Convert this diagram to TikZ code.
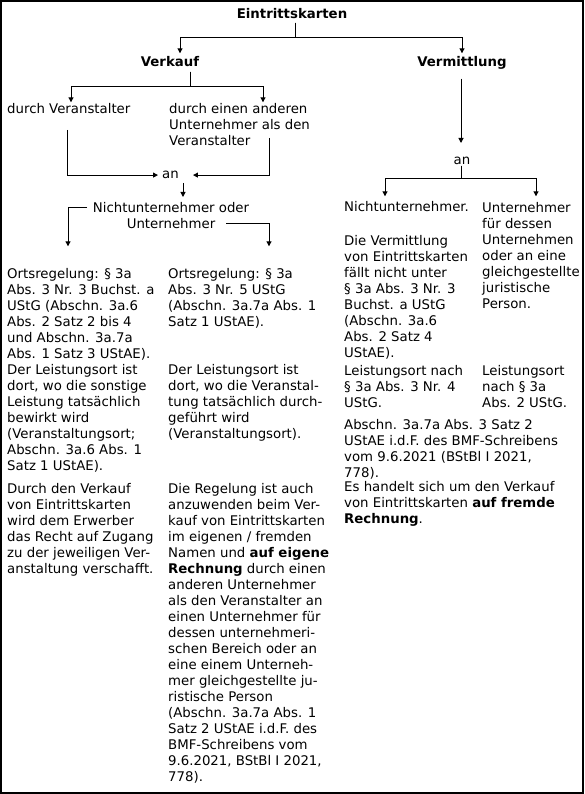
\documentclass[tikz,border=0pt]{standalone}
\usepackage{fontspec}
\setmainfont{DejaVu Sans}
\usetikzlibrary{arrows.meta}
\newcommand{\fs}{\fontsize{13.3}{16}\selectfont}
\newcommand{\tstrut}{\rule[-4.8pt]{0pt}{13.7pt}}
\begin{document}
\begin{tikzpicture}[x=1pt,y=-1pt,
  basetxt/.style={inner sep=0pt, font=\fs, align=left, anchor=north west},
  txt/.style={basetxt, execute at begin node=\tstrut},
  ctxt/.style={txt, anchor=north, align=center},
  btxt/.style={basetxt, anchor=north, align=center, font=\fs\bfseries, execute at begin node=\strut},
  conn/.style={line width=1pt},
  arr/.style={conn, -{Triangle[length=5pt,width=5pt]}}]
\useasboundingbox (0,0) rectangle (584,794);
\draw[line width=1.6pt] (0.8,0.8) rectangle (583.2,793.2);
% headings
\node[btxt] (eint) at (292,7.3) {Eintrittskarten};
\node[btxt] (verk) at (170,55.3) {Verkauf};
\node[btxt] (verm) at (462,55.3) {Vermittlung};
% Verkauf branch
\node[txt] (dv) at (7,103.3) {durch Veranstalter};
\node[txt] (dea) at (169,103.3) {durch einen anderen\\Unternehmer als den\\Veranstalter};
\node[ctxt] (anL) at (170.5,169.3) {an};
\node[ctxt] (nu) at (171,202.3) {Nichtunternehmer oder\\Unternehmer};
\node[txt] (l1) at (7,268.3) {Ortsregelung: § 3a\\Abs. 3 Nr. 3 Buchst. a\\UStG (Abschn. 3a.6\\Abs. 2 Satz 2 bis 4\\und Abschn. 3a.7a\\Abs. 1 Satz 3 UStAE).};
\node[txt] (l2) at (7,364.3) {Der Leistungsort ist\\dort, wo die sonstige\\Leistung tatsächlich\\bewirkt wird\\(Veranstaltungsort;\\Abschn. 3a.6 Abs. 1\\Satz 1 UStAE).};
\node[txt] (l3) at (7,483.3) {Durch den Verkauf\\von Eintrittskarten\\wird dem Erwerber\\das Recht auf Zugang\\zu der jeweiligen Ver-\\anstaltung verschafft.};
\node[txt] (m1) at (168,268.3) {Ortsregelung: § 3a\\Abs. 3 Nr. 5 UStG\\(Abschn. 3a.7a Abs. 1\\Satz 1 UStAE).};
\node[txt] (m2) at (168,364.3) {Der Leistungsort ist\\dort, wo die Veranstal-\\tung tatsächlich durch-\\geführt wird\\(Veranstaltungsort).};
\node[txt] (m3) at (168,483.3) {Die Regelung ist auch\\anzuwenden beim Ver-\\kauf von Eintrittskarten\\im eigenen / fremden\\Namen und \textbf{auf eigene}\\\textbf{Rechnung} durch einen\\anderen Unternehmer\\als den Veranstalter an\\einen Unternehmer für\\dessen unternehmeri-\\schen Bereich oder an\\eine einem Unterneh-\\mer gleichgestellte ju-\\ristische Person\\(Abschn. 3a.7a Abs. 1\\Satz 2 UStAE i.d.F. des\\BMF-Schreibens vom\\9.6.2021, BStBl I 2021,\\778).};
% Vermittlung branch
\node[ctxt] (anR) at (462,155) {an};
\node[txt] (nich) at (344,201.3) {Nichtunternehmer.};
\node[txt] (r1) at (344,235.3) {Die Vermittlung\\von Eintrittskarten\\fällt nicht unter\\§ 3a Abs. 3 Nr. 3\\Buchst. a UStG\\(Abschn. 3a.6\\Abs. 2 Satz 4\\UStAE).};
\node[txt] (r2) at (344,365.3) {Leistungsort nach\\§ 3a Abs. 3 Nr. 4\\UStG.};
\node[txt] (r3) at (344,419.3) {Abschn. 3a.7a Abs. 3 Satz 2\\UStAE i.d.F. des BMF-Schreibens\\vom 9.6.2021 (BStBl I 2021,\\778).};
\node[txt] (r4) at (344,481.3) {Es handelt sich um den Verkauf\\von Eintrittskarten \textbf{auf fremde}\\\textbf{Rechnung}.};
\node[txt] (u1) at (482,202.3) {Unternehmer\\für dessen\\Unternehmen\\oder an eine\\gleichgestellte\\juristische\\Person.};
\node[txt] (u2) at (482,365.3) {Leistungsort\\nach § 3a\\Abs. 2 UStG.};
% connectors
\draw[arr] ([xshift=3pt,yshift=1pt]eint.south) -- ++(0,15) -| ([xshift=10pt,yshift=2pt]verk.north);
\draw[arr] ([xshift=3pt,yshift=1pt]eint.south) -- ++(0,15) -| ([yshift=2pt]verm.north);
\draw[arr] ([xshift=20pt]verk.south) -- ++(0,15) -| ([xshift=64pt,yshift=1pt]dv.north west);
\draw[arr] ([xshift=20pt]verk.south) -- ++(0,15) -| ([xshift=94pt,yshift=1pt]dea.north west);
\draw[arr] ([xshift=60pt,yshift=-26.7pt]dv.north west) |- ([xshift=-4pt,yshift=1.25pt]anL.west);
\draw[arr] ([xshift=100pt,yshift=-34.7pt]dea.north west) |- ([xshift=14pt,yshift=1.25pt]anL.east);
\draw[arr] ([xshift=12.5pt,yshift=-13.7pt]anL.north) -- ([xshift=12pt,yshift=5.3pt]nu.north);
\draw[arr] ([xshift=-84pt,yshift=-5.7pt]nu.north) -| ([xshift=61pt,yshift=22pt]l1.north west);
\draw[arr] ([xshift=55pt,yshift=-21.7pt]nu.north) -| ([xshift=101pt,yshift=22pt]m1.north west);
\draw[arr] ([xshift=-1pt,yshift=-7pt]verm.south) -- ([xshift=-1pt,yshift=12pt]anR.north);
\draw[arr] ([xshift=-1pt,yshift=3.5pt]anR.south) -- ++(0,13) -| ([xshift=41pt,yshift=5pt]nich.north west);
\draw[arr] ([xshift=-1pt,yshift=3.5pt]anR.south) -- ++(0,13) -| ([xshift=54pt,yshift=6pt]u1.north west);
\end{tikzpicture}
\end{document}
